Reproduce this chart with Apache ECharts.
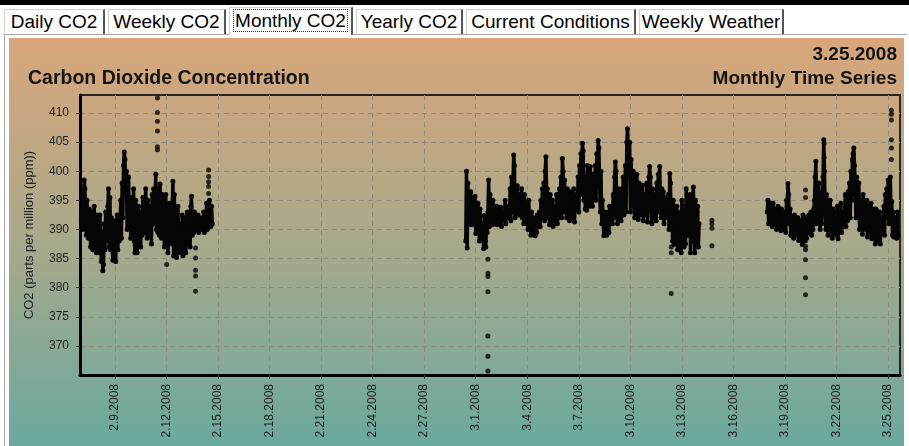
<!DOCTYPE html>
<html>
<head>
<meta charset="utf-8">
<script src="https://cdn.jsdelivr.net/npm/echarts@6/dist/echarts.min.js"></script>
<style>
  html, body { margin: 0; padding: 0; background: #fff; }
  body { width: 909px; height: 446px; position: relative; overflow: hidden; font-family: 'Liberation Sans', Arial, sans-serif; }
  .topbar { position: absolute; left: 0; top: 0; width: 909px; height: 5px; background: #000; }
  .tab { position: absolute; top: 9px; height: 25px; line-height: 23px; font-size: 19px; color: #000; text-align: center;
         background: #fff; border: 1px solid #d4d0c8; border-right: 2px solid #555; border-bottom: none; box-sizing: border-box; white-space: nowrap; }
  .tab.sel { top: 7px; height: 28px; line-height: 25px; }
  .tab.sel span { border: 1px dotted #333; padding: 0 1px; }
  .panel { position: absolute; left: 4px; top: 34px; width: 903px; height: 412px; border-left: 1px solid #a8a8a8; border-top: 1px solid #a8a8a8; box-sizing: border-box; background: #fff; }
  #chart { position: absolute; left: 9px; top: 38px; width: 895px; height: 408px; }
</style>
</head>
<body>
<div class="topbar"></div>
<div class="panel"></div>
<div class="tab" style="left:4px;width:101px;">Daily CO2</div>
<div class="tab" style="left:108px;width:118px;">Weekly CO2</div>
<div class="tab sel" style="left:229px;width:124px;"><span>Monthly CO2</span></div>
<div class="tab" style="left:356px;width:107px;">Yearly CO2</div>
<div class="tab" style="left:466px;width:170px;">Current Conditions</div>
<div class="tab" style="left:639px;width:145px;">Weekly Weather</div>
<div id="chart"></div>
<script>
// time axis is "day of 2008 counted from Feb 0" (Mar 1 = day 30)
const tickDays = [9, 12, 15, 18, 21, 24, 27, 30, 33, 36, 39, 42, 45, 48, 51, 54];
const tickLabels = ['2.9.2008', '2.12.2008', '2.15.2008', '2.18.2008', '2.21.2008', '2.24.2008', '2.27.2008',
  '3.1.2008', '3.4.2008', '3.7.2008', '3.10.2008', '3.13.2008', '3.16.2008', '3.19.2008', '3.22.2008', '3.25.2008'];
const yTicks = [370, 375, 380, 385, 390, 395, 400, 405, 410];

// hourly readings (ppm), three runs of data
const febStart = 7.04;
const febCO2 = [
  391.5, 393.5, 390, 395, 398.5, 397, 393, 389, 395, 390.5, 388.5, 393.5,
  391, 387, 393, 388.5, 386.5, 392, 394, 387.5, 391, 386, 392.5, 388.5,
  390.5, 386, 392.5, 387.5, 384.5, 389.5, 382.9, 384, 391, 386.5, 393, 388,
  390, 394, 397, 387, 395.5, 386.5, 392, 388, 384.7, 390.5, 386, 391.5,
  384.5, 389, 392.5, 386.5, 391, 388, 390, 395, 388.5, 398, 392, 401,
  403.3, 402, 396, 400, 390, 398, 399, 391, 395.5, 388.5, 393, 390,
  394, 397, 388, 386, 395, 390.5, 386, 391, 394, 388.5, 392.5, 387,
  393, 389, 395.5, 391, 389.5, 394, 397, 392, 388.5, 395, 390, 393.5,
  389, 394, 387.5, 396, 391, 397, 391, 395, 399.5, 390, 397, 389.5,
  394, 389, 397.8, 392, 388.5, 396, 390, 395, 387, 392.5, 396, 388,
  393, 386, 390, 394.5, 387.5, 391, 389, 394, 398.3, 385.5, 396, 388,
  392, 385.2, 390, 394, 387, 389.5, 386, 391, 388, 392.5, 385.5, 390,
  389, 392, 386, 391, 393, 387.5, 390, 393, 387, 394, 395.7, 389,
  392, 389.5, 393, 390.5, 391.5, 390, 391, 392.5, 389.5, 392, 390.5, 391.5,
  390, 392, 391, 393, 389.5, 392, 391, 394.5, 390, 393, 392, 395,
  392, 390.5, 394, 391
];

const marStartA = 29.42;
const marCO2A = [
  388, 400, 386.8, 398, 391, 395, 393, 396.5, 390.8, 394.5, 392, 395.5,
  391, 395.7, 389.3, 393.5, 390.5, 394.5, 392, 388, 393.5, 389.5, 391, 388.5,
  390, 386.7, 392.4, 388, 387, 391, 389.5, 393, 398.5, 390.5, 396, 391.5,
  394, 390.8, 395, 392, 391, 393.5, 392, 394, 390.8, 393, 391.5, 393.8,
  391, 393.8, 390.5, 392.5, 391.5, 393, 392, 395, 391, 393.5, 392.5, 394,
  394, 392, 397, 391.5, 399, 393, 398, 402.8, 401, 392, 396, 394,
  397.5, 393, 395, 392.5, 396, 394, 397, 392, 395, 391, 396, 393,
  394.5, 391, 393, 390, 395, 392, 391, 389, 393, 390, 392, 389.5,
  390, 388.9, 392, 389.5, 392.5, 391, 391, 393, 390.5, 395, 392, 397,
  394, 398, 391.5, 400, 402.5, 396, 397, 392, 394.5, 390.8, 396, 393,
  392, 395, 390.5, 393.5, 391, 394, 393, 396, 391, 394.5, 392, 397,
  395, 399, 392, 402.2, 400, 393, 398.5, 393, 396, 392, 397, 394,
  395, 391.5, 396.5, 393, 392, 394.5, 392.5, 397, 391.3, 395, 393.5, 396,
  394, 399, 393, 401, 396, 403, 402, 404.8, 403.5, 395, 399, 393.5,
  397, 393.3, 401, 395, 399, 394, 400.8, 395, 398, 394, 399.5, 396,
  397, 401, 395, 403, 399, 405.3, 404, 398, 393, 400, 391, 395,
  391, 388.9, 393, 389.5, 392, 389, 390, 393, 389.5, 394, 391, 392.5,
  393, 391, 396, 392, 399, 401.6, 400, 394, 391, 397, 392, 395,
  396, 391.5, 397, 393, 399, 392.5, 395, 401, 393, 405, 407.3, 404,
  399, 405, 393, 402, 396, 398, 400, 394, 392, 397.5, 393, 399.5,
  396, 391.7, 398, 393, 395, 392.5, 394, 397.6, 391.5, 396, 392.5, 395,
  393, 398, 391.3, 396, 399, 400.8, 399, 394, 391, 397, 392.5, 395,
  392, 396, 391.5, 398, 393, 399.5, 398, 400.8, 394, 392, 397, 393,
  396.5, 391, 394, 392, 395.5, 393, 392, 396, 390, 399.6, 398, 391,
  394, 388, 395, 387.4, 392, 390, 390, 394, 386.5, 392.5, 388, 391,
  393, 386, 395, 388.5, 391, 387, 394, 387.5, 397, 390, 392.5, 389,
  391, 396, 386, 393.5, 388, 395, 397.3, 390, 386, 395, 388.5, 393,
  394, 387, 391
];

const marStartB = 46.97;
const marCO2B = [
  393, 395, 391, 394, 392, 394.5, 392, 390.5, 394.5, 391, 393.5, 391.5,
  393, 390, 392.5, 394, 391, 390.5, 392, 389.8, 393.5, 390.5, 392.5, 391,
  390, 393, 389.5, 395, 394, 397.9, 396, 391, 393.5, 389, 392, 390,
  391, 388.5, 392.5, 389.5, 390.5, 392, 389, 392, 388.1, 390.5, 391.5, 388.5,
  390, 387.4, 392.5, 389, 391, 388, 392, 388.5, 391, 389.5, 392.5, 390,
  391, 393, 389, 392, 390, 393.5, 395, 399, 401.7, 391, 397, 392,
  398, 393, 390, 396, 391, 395, 399, 405.4, 400, 393, 390, 396,
  394, 389, 392, 390, 395, 391, 390, 388.5, 393.5, 389.5, 392, 391,
  393, 389, 394, 388.4, 392, 390, 391, 394.5, 389.5, 393, 390.5, 392.5,
  392, 396, 390.5, 394, 391.5, 396.5, 394, 398, 392, 400, 395, 402,
  403, 404, 401, 396, 392, 399, 397, 392, 398, 390, 395, 393,
  394, 389.2, 396, 391, 392.5, 390, 393, 395, 388.7, 391, 394, 390,
  389.5, 394.5, 388.4, 392, 390.5, 393.5, 391, 387.5, 393.5, 389, 388, 392,
  388, 393, 387.5, 391, 389.5, 392, 390, 394, 389, 396, 392, 397,
  393, 398.5, 391, 396, 399, 392, 394.8, 389, 393, 388.7, 392, 390,
  391, 388.5, 393, 389
];

// isolated readings (bursts away from the main cloud)
const spikeDays = [
  11.47, 11.47, 11.47, 11.47, 11.47, 11.47,
  13.69, 13.69, 13.69, 13.69, 13.69,
  12.01,
  14.45, 14.45, 14.45, 14.45, 14.45,
  30.71, 30.71, 30.71, 30.71, 30.71, 30.71, 30.71,
  41.38, 41.38, 41.38,
  43.75, 43.75, 43.75, 43.75,
  49.2, 49.2, 49.2, 49.2, 49.2, 49.2, 49.2,
  50.28, 50.28,
  54.2, 54.2, 54.2, 54.2, 54.2, 54.2
];
const spikeValues = [
  412.6, 410.1, 408.6, 406.9, 404.2, 403.7,
  386.8, 385.1, 383.0, 382.0, 379.4,
  384.0,
  400.2, 399.1, 398.2, 397.4, 396.2,
  384.9, 382.5, 381.9, 379.3, 371.7, 368.2, 365.7,
  387.0, 386.0, 379.0,
  391.6, 391.0, 390.2, 387.2,
  396.8, 395.5, 387.1, 386.5, 384.8, 381.7, 378.8,
  404.8, 402.3,
  410.5, 409.8, 408.8, 405.4, 404.0, 402.0
];

const HOUR = 1 / 24;
const run = (start, values) => values.map((v, i) => [start + i * HOUR, v]);

const FONT = "'Liberation Sans', Arial, sans-serif";
const INK = '#050505';
const gridLine = { show: true, lineStyle: { color: '#8f8a7b', width: 1, type: [5, 4] } };
const headStyle = { fontFamily: FONT, fontSize: 19, fontWeight: 'bold', color: '#141414' };

// dense readings overplot into a solid cloud: dots joined by a thick trace
const cloud = (name, data) => ({
  name,
  type: 'line',
  data,
  showSymbol: true,
  showAllSymbol: true,
  symbol: 'circle',
  symbolSize: 5,
  itemStyle: { color: INK, borderWidth: 0 },
  lineStyle: { color: INK, width: 3.5, join: 'round', cap: 'round' },
  silent: true,
});

const chart = echarts.init(document.getElementById('chart'));
chart.setOption({
  animation: false,
  backgroundColor: new echarts.graphic.LinearGradient(0, 0, 0, 1, [
    { offset: 0, color: '#d9a67a' },
    { offset: 0.5, color: '#a8a98b' },
    { offset: 1, color: '#6aa99f' },
  ]),
  title: [
    { text: '3.25.2008', right: 7, top: 7, padding: 0, textStyle: headStyle },
    { text: 'Carbon Dioxide Concentration', left: 19, top: 31, padding: 0, textStyle: { ...headStyle, fontSize: 19.5 } },
    { text: 'Monthly Time Series', right: 7, top: 31, padding: 0, textStyle: headStyle },
  ],
  grid: { left: 71, right: 4, top: 57, bottom: 71, show: true, borderColor: '#2a2420', borderWidth: 2, backgroundColor: 'transparent' },
  xAxis: {
    type: 'value',
    min: 6.963,
    max: 54.70,
    axisLine: { show: true, onZero: false, lineStyle: { color: '#000', width: 3 } },
    axisTick: { show: true, customValues: tickDays, length: 4, lineStyle: { color: '#333' } },
    axisLabel: {
      customValues: tickDays,
      rotate: 90,
      margin: 9,
      fontFamily: FONT,
      fontSize: 12,
      color: '#222',
      formatter: (v) => tickLabels[tickDays.indexOf(Math.round(v))] || '',
    },
    splitLine: gridLine,
  },
  yAxis: {
    type: 'value',
    min: 365,
    max: 413.1,
    name: 'CO2 (parts per million (ppm))',
    nameLocation: 'middle',
    nameGap: 44,
    nameTextStyle: { fontFamily: FONT, fontSize: 13, color: '#222' },
    axisLine: { show: true, lineStyle: { color: '#000', width: 3 } },
    axisTick: { show: true, customValues: yTicks, length: 4, lineStyle: { color: '#333' } },
    axisLabel: { customValues: yTicks, margin: 11, fontFamily: FONT, fontSize: 12, color: '#222' },
    splitLine: gridLine,
  },
  series: [
    cloud('Feb', run(febStart, febCO2)),
    cloud('MarA', run(marStartA, marCO2A)),
    cloud('MarB', run(marStartB, marCO2B)),
    {
      name: 'isolated',
      type: 'scatter',
      data: spikeDays.map((d, i) => [d, spikeValues[i]]),
      symbol: 'circle',
      symbolSize: 5,
      itemStyle: { color: INK },
      silent: true,
    },
  ],
});
</script>
</body>
</html>
